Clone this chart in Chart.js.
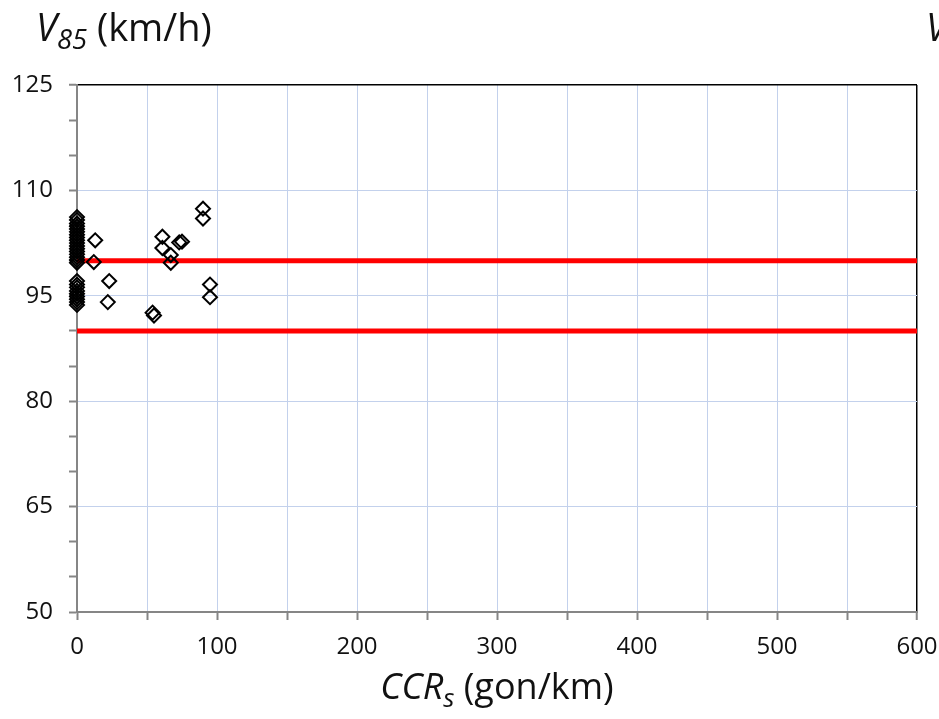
<!DOCTYPE html>
<html>
<head>
<meta charset="utf-8">
<title>V85 vs CCRs</title>
<script src="https://cdn.jsdelivr.net/npm/chart.js@4.4.1/dist/chart.umd.min.js"></script>
<style>
  body { margin: 0; background: #fff; }
  #wrap { position: relative; width: 939px; height: 719px; overflow: hidden; font-family: "Open Sans", sans-serif; color: #111; }
  #wrap canvas { position: absolute; left: 0; top: 0; }
  .axis-title { position: absolute; font-size: 36px; line-height: 1; white-space: nowrap; }
  .axis-title i { font-style: italic; }
  .axis-title sub { font-size: 0.72em; font-style: italic; vertical-align: -0.3em; line-height: 0; }
  #yTitle, #yTitle2 { font-size: 38px; top: 7px; }
  #yTitle { left: 36px; }
  #yTitle2 { left: 926px; }
  #xTitle { left: 0; width: 994px; text-align: center; top: 668px; }
</style>
</head>
<body>
<div id="wrap">
  <canvas id="speedChart" width="939" height="719"></canvas>
  <div class="axis-title" id="yTitle"><i>V</i><sub>85</sub> (km/h)</div>
  <div class="axis-title" id="yTitle2"><i>V</i><sub>85</sub> (km/h)</div>
  <div class="axis-title" id="xTitle"><i>CCR</i><sub>s</sub> (gon/km)</div>
</div>
<script>
// Curvature change rate of single curve (gon/km) per measured section
const ccrValues = [
  0, 0, 0, 0, 0, 0, 0, 0, 0, 0, 0, 0, 0, 0, 0, 0, 0,
  0, 0, 0, 0, 0, 0, 0, 0, 0,
  13, 12, 23, 22, 54, 55, 61, 61, 67, 67, 73, 75, 90, 90, 95, 95
];
// 85th percentile speed (km/h) for the same sections
const v85Values = [
  106.2, 105.8, 105.3, 104.9, 104.5, 104.1, 103.7, 103.3, 102.9, 102.5, 102.1, 101.7, 101.3, 100.9, 100.5, 100.1, 99.7,
  97.1, 96.6, 96.2, 95.7, 95.3, 94.9, 94.5, 94.1, 93.7,
  102.9, 99.8, 97.1, 94.1, 92.6, 92.2, 103.4, 101.8, 100.8, 99.7, 102.6, 102.7, 107.4, 106.0, 96.6, 94.8
];
// Speed band limits drawn across the whole CCR range
const bandLimits = [100, 90];
const ccrRange = [0, 600];
const speedRange = [50, 125];
const speedLabelStep = 15;
const ccrLabelStep = 100;

const gridBlue = '#c3d1ec';
const axisGrey = '#868686';
const tickFont = { family: 'Open Sans', size: 24 };

const points = ccrValues.map((x, i) => ({ x, y: v85Values[i] }));

const bandSets = bandLimits.map(v => ({
  type: 'line',
  data: ccrRange.map(x => ({ x, y: v })),
  borderColor: '#ff0000',
  borderWidth: 5,
  pointRadius: 0,
  fill: false
}));

const isSpeedLabel = v => (v - speedRange[0]) % speedLabelStep === 0;

new Chart(document.getElementById('speedChart'), {
  type: 'scatter',
  data: {
    datasets: [
      {
        data: points,
        clip: false,
        pointStyle: 'rectRot',
        pointRadius: 7,
        pointBorderWidth: 2,
        pointBorderColor: '#000',
        pointBackgroundColor: 'rgba(0,0,0,0)'
      },
      ...bandSets
    ]
  },
  options: {
    responsive: false,
    animation: false,
    layout: { padding: { top: 85, right: 22, left: 0, bottom: 0 } },
    plugins: { legend: { display: false }, tooltip: { enabled: false } },
    scales: {
      x: {
        type: 'linear',
        min: ccrRange[0],
        max: ccrRange[1],
        // the last label may hang over the right edge of the plot
        afterFit: s => { s.height = 107; s.paddingRight = 0; },
        border: { color: axisGrey, width: 2 },
        grid: {
          color: c => c.tick && c.tick.value === ccrRange[1] ? '#000' : gridBlue,
          lineWidth: c => c.tick && c.tick.value === ccrRange[1] ? 1.5 : 1,
          tickColor: axisGrey,
          tickLength: 8,
          tickWidth: 2
        },
        ticks: {
          stepSize: 50,
          autoSkip: false,
          maxRotation: 0,
          padding: 13,
          color: '#111',
          font: tickFont,
          callback: v => (v % ccrLabelStep === 0 ? v : '')
        }
      },
      y: {
        type: 'linear',
        min: speedRange[0],
        max: speedRange[1],
        afterFit: s => { s.width = 77; },
        border: { color: axisGrey, width: 2 },
        grid: {
          color: c => {
            if (!c.tick) return gridBlue;
            if (c.tick.value === speedRange[1]) return '#000';
            return isSpeedLabel(c.tick.value) ? gridBlue : 'rgba(0,0,0,0)';
          },
          lineWidth: c => c.tick && c.tick.value === speedRange[1] ? 1.5 : 1,
          tickColor: axisGrey,
          tickLength: 8,
          tickWidth: 2
        },
        ticks: {
          stepSize: 5,
          autoSkip: false,
          padding: 16,
          color: '#111',
          font: tickFont,
          callback: v => (isSpeedLabel(v) ? v : '')
        }
      }
    }
  }
});
</script>
</body>
</html>
